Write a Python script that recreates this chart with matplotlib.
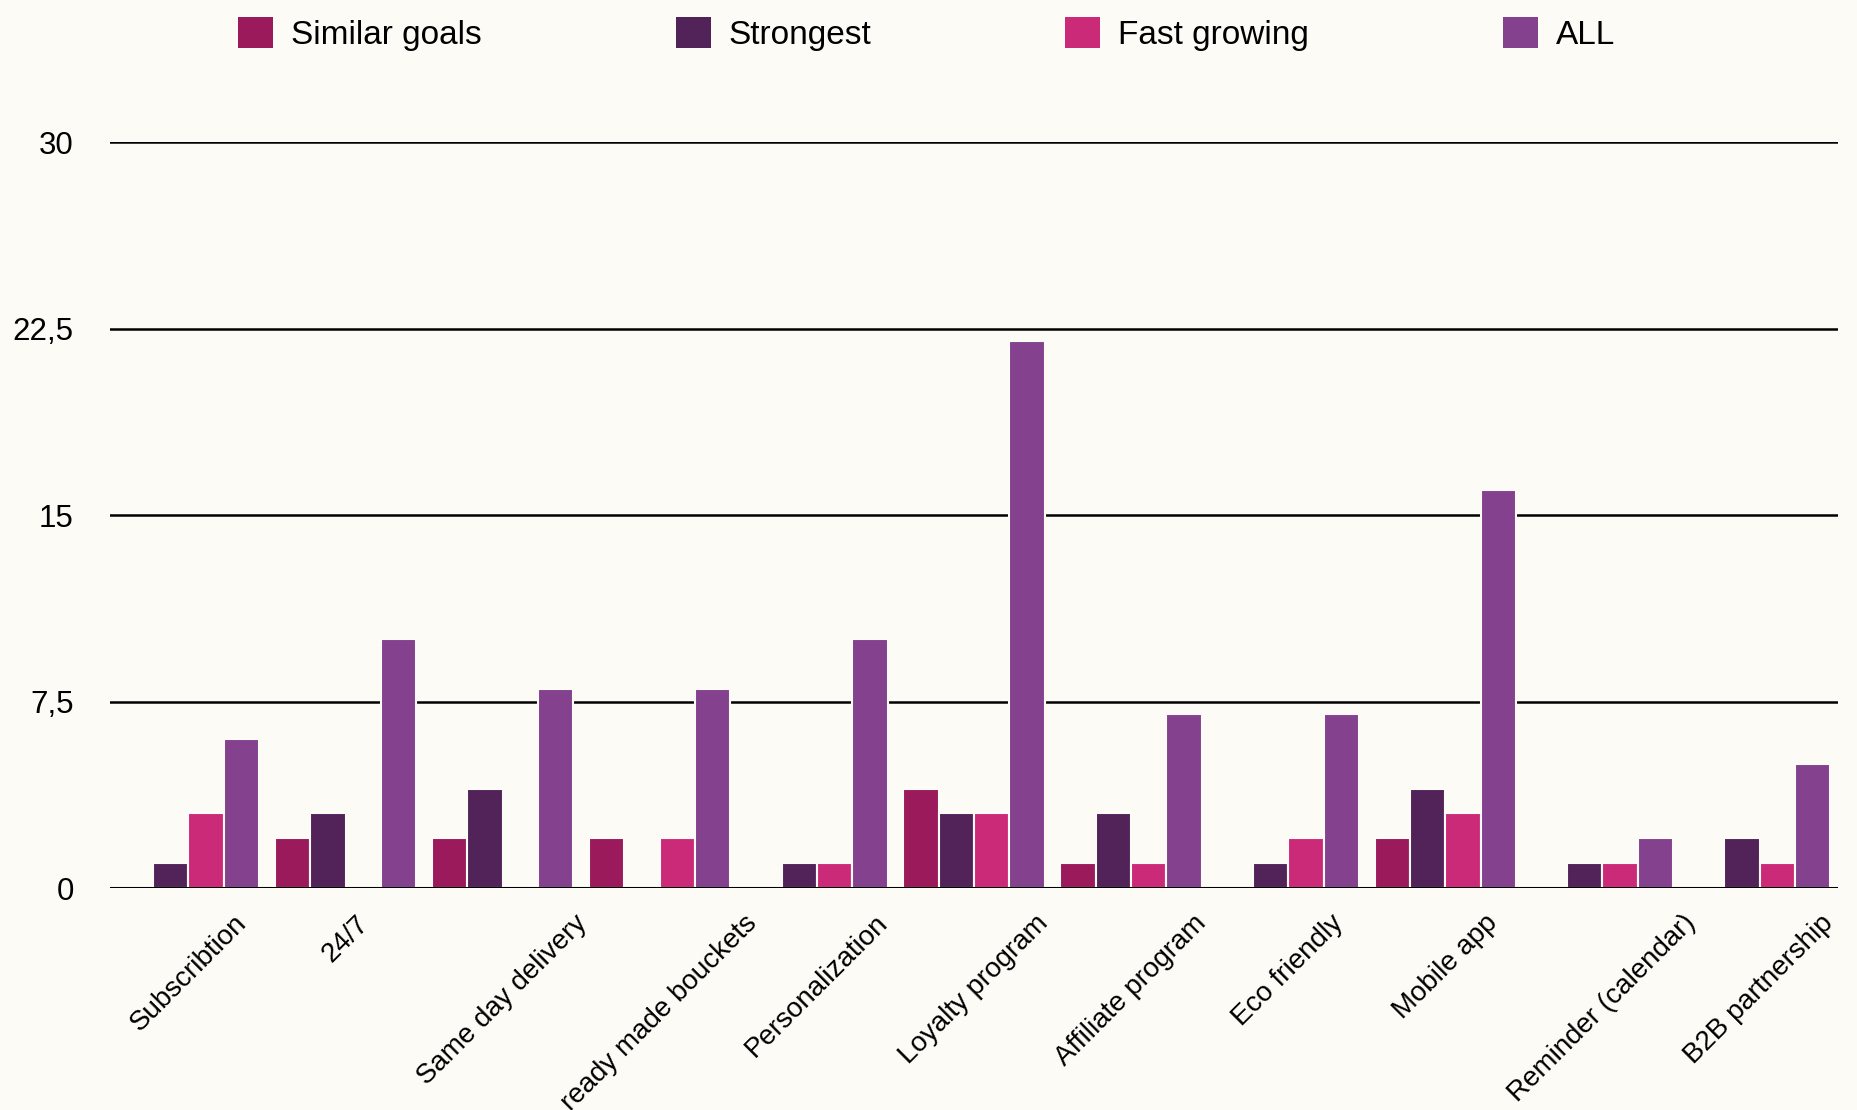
import numpy as np
import matplotlib
matplotlib.use("Agg")
import matplotlib.pyplot as plt
from matplotlib.patches import Patch

plt.rcParams['font.family'] = ['Liberation Sans', 'DejaVu Sans']

# Data
categories = ["Subscribtion", "24/7", "Same day delivery", "ready made bouckets",
              "Personalization", "Loyalty program", "Affiliate program",
              "Eco friendly", "Mobile app", "Reminder (calendar)", "B2B partnership"]
similar_goals = [0, 2, 2, 2, 0, 4, 1, 0, 2, 0, 0]
strongest = [1, 3, 4, 0, 1, 3, 3, 1, 4, 1, 2]
fast_growing = [3, 0, 0, 2, 1, 3, 1, 2, 3, 1, 1]
all_firms = [6, 10, 8, 8, 10, 22, 7, 7, 16, 2, 5]
series_names = ["Similar goals", "Strongest", "Fast growing", "ALL"]
yticks = [0, 7.5, 15, 22.5, 30]
ytick_labels = ["0", "7,5", "15", "22,5", "30"]

colors = ["#9A1A5C", "#512359", "#CB2A79", "#83418E"]
bg = "#FCFBF6"

fig = plt.figure(figsize=(18.57, 11.10), dpi=100, facecolor=bg)
ax = fig.add_axes([0.0592, 0.2, 0.9306, 0.672])
ax.set_facecolor(bg)

x = np.arange(len(categories))
w = 0.225
series = [similar_goals, strongest, fast_growing, all_firms]
for i, vals in enumerate(series):
    ax.bar(x + (i - 1.5) * w, vals, width=w, color=colors[i],
           edgecolor=bg, linewidth=1.5, zorder=2, label=series_names[i])

# grid lines behind bars, baseline on top
for yv in yticks[1:]:
    ax.axhline(yv, color="black", linewidth=1.8, zorder=1)
ax.axhline(0, color="black", linewidth=2.2, zorder=3)

ax.set_xlim(-0.5, len(categories) - 0.5)
ax.set_ylim(0, 30)
ax.set_yticks(yticks)
ax.set_yticklabels(ytick_labels, fontsize=22.5)
ax.set_xticks(x)
ax.set_xticklabels(categories, rotation=45, ha="center", va="top", fontsize=20)
ax.tick_params(axis="y", length=0, pad=26)
ax.tick_params(axis="x", length=0, pad=16)
for s in ax.spines.values():
    s.set_visible(False)

handles = [Patch(facecolor=c, edgecolor="none") for c in colors]
fig.legend(handles, series_names, loc="center", bbox_to_anchor=(0.499, 0.969),
           ncol=4, frameon=False, fontsize=24, handlelength=1.05, handleheight=1.05,
           handletextpad=0.55, columnspacing=5.8)

fig.savefig("out.png", dpi=100, facecolor=bg)
